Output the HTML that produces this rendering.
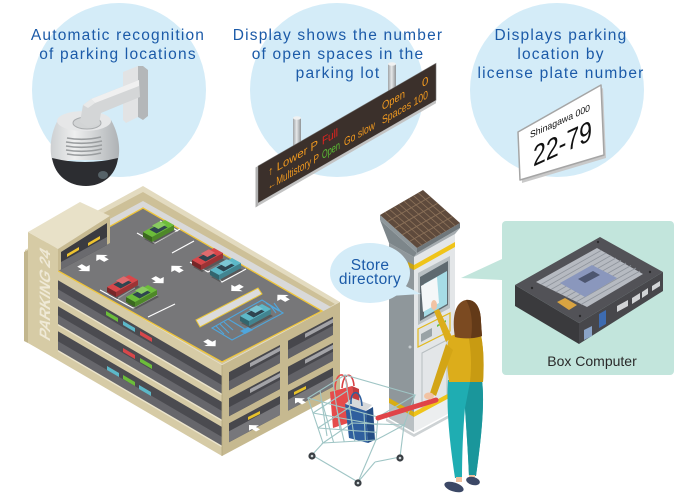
<!DOCTYPE html>
<html><head><meta charset="utf-8">
<style>
html,body{margin:0;padding:0;background:#fff;width:700px;height:500px;overflow:hidden}
svg{display:block}
.h{font-family:"Liberation Sans",Arial,sans-serif;font-size:15.5px;fill:#1b5aa8;letter-spacing:1.2px;text-anchor:middle}
.s{font-family:"Liberation Sans",Arial,sans-serif}
</style></head><body>
<svg width="700" height="500" viewBox="0 0 700 500" xmlns="http://www.w3.org/2000/svg">
<defs>
<linearGradient id="pole" x1="0" x2="1"><stop offset="0" stop-color="#9fa3a6"/><stop offset="0.45" stop-color="#e6e8e9"/><stop offset="1" stop-color="#8f9396"/></linearGradient>
<linearGradient id="dome" x1="0" x2="1"><stop offset="0" stop-color="#cdd0d2"/><stop offset="0.35" stop-color="#eeefef"/><stop offset="1" stop-color="#aeb2b5"/></linearGradient>
<path id="arr" d="M0,-5 L5,0 L2,0 L2,4 L-2,4 L-2,0 L-5,0 Z" fill="#fff"/>
<g id="car">
 <polygon points="1,2 24,-10 33,-5 10,7" fill="#3a3a3a" opacity="0.5"/>
 <polygon points="9,5 31,-7 31,-12 9,0" fill="currentColor"/>
 <polygon points="9,5 31,-7 31,-12 9,0" fill="#000" opacity="0.28"/>
 <polygon points="0,0 9,5 9,0 0,-5" fill="currentColor"/>
 <polygon points="0,0 9,5 9,0 0,-5" fill="#000" opacity="0.45"/>
 <polygon points="0,-5 22,-17 31,-12 9,0" fill="currentColor"/>
 <polygon points="6.4,-7.5 17.4,-13.5 24.6,-9.5 13.6,-3.5" fill="#2f4550"/>
 <polygon points="9,-11.5 16.8,-15.7 23,-12.2 15.4,-8" fill="currentColor"/>
 <polygon points="9,-11.5 16.8,-15.7 23,-12.2 15.4,-8" fill="#fff" opacity="0.2"/>
</g>
</defs>
<rect width="700" height="500" fill="#fff"/>

<!-- circles -->
<circle cx="119" cy="90" r="87" fill="#d4ecf8"/>
<circle cx="337" cy="90" r="87" fill="#d4ecf8"/>
<circle cx="557" cy="90" r="87" fill="#d4ecf8"/>

<!-- camera -->
<polygon points="138,66 143,66 148,70 148,116 143,120 138,117" fill="#b4b7b9"/>
<polygon points="123,72 138,66 138,117 126,123 123,120" fill="#e2e3e4"/>
<path d="M58,120 C51,132 49,148 52,160 L118,160 C121,148 118,132 111,120 Z" fill="url(#dome)"/>
<ellipse cx="84" cy="121" rx="27" ry="10" fill="#e6e7e8"/>
<ellipse cx="87" cy="123" rx="14" ry="6" fill="#d2d4d5" stroke="#a9acae" stroke-width="1"/>
<polygon points="139,80 91,99 83,105 80,122 88,127 99,124 101,113 140,97" fill="#d4d6d7"/>
<polygon points="139,80 91,99 95,103 139,86" fill="#f0f0f0"/>
<polygon points="83,105 91,99 95,103 88,108" fill="#e8e9e9"/>
<g stroke="#9a9d9f" stroke-width="1.6" fill="none">
<path d="M67,138 Q84,141 101,137"/><path d="M66,142 Q84,145 102,141"/><path d="M66,146 Q84,149 102,145"/><path d="M66,150 Q84,153 102,149"/><path d="M67,154 Q84,157 101,153"/>
</g>
<path d="M52,158 Q85,166 118,158 C116,176 102,186 86,186 C69,186 55,176 52,158 Z" fill="#2c2d31"/>
<ellipse cx="103" cy="175" rx="5" ry="4" fill="#566268"/>

<!-- sign -->
<rect x="293" y="118" width="8" height="40" fill="url(#pole)"/>
<ellipse cx="297" cy="118" rx="4" ry="1.8" fill="#f0f1f1"/>
<rect x="388" y="64" width="8" height="40" fill="url(#pole)"/>
<ellipse cx="392" cy="64" rx="4" ry="1.8" fill="#f0f1f1"/>
<g transform="matrix(1,-0.5774,0,1,0,0)" class="s">
 <rect x="258" y="315" width="178" height="37" fill="#3b302b" stroke="#777" stroke-width="0.6"/>
 <rect x="258" y="352" width="178" height="3" fill="#c3c3c3"/>
 <rect x="255.5" y="315" width="2.5" height="40" fill="#b0b0b0"/>
 <g font-size="11.5" fill="#f29a1f">
  <text x="268" y="331" textLength="50" lengthAdjust="spacingAndGlyphs">↑ Lower P</text>
  <text x="322" y="331" fill="#e8231f" textLength="16" lengthAdjust="spacingAndGlyphs">Full</text>
  <text x="382" y="331" textLength="23" lengthAdjust="spacingAndGlyphs">Open</text>
  <text x="422" y="331">0</text>
  <text x="268" y="345" textLength="51" lengthAdjust="spacingAndGlyphs">←Multistory P</text>
  <text x="322" y="345" fill="#5cc234" textLength="18" lengthAdjust="spacingAndGlyphs">Open</text>
  <text x="344" y="345" textLength="31" lengthAdjust="spacingAndGlyphs">Go slow</text>
  <text x="382" y="345" textLength="46" lengthAdjust="spacingAndGlyphs">Spaces 100</text>
 </g>
</g>

<!-- license plate -->
<polygon points="520,135 603,88 606,158 522,183" fill="#c9c9c9"/>
<polygon points="518,132 601,85 604,155 520,180" fill="#fff" stroke="#a5a5a5" stroke-width="1.5" stroke-linejoin="round"/>
<g transform="matrix(1,-0.46,0,1,0,0)" class="s" fill="#111">
 <text x="530" y="382" font-size="9.5" textLength="60" lengthAdjust="spacingAndGlyphs">Shinagawa 000</text>
 <text x="533" y="412" font-size="29" textLength="59" lengthAdjust="spacingAndGlyphs">22-79</text>
</g>

<!-- headers -->
<text class="h" x="118" y="40">Automatic recognition</text>
<text class="h" x="118" y="59">of parking locations</text>
<text class="h" x="338" y="40">Display shows the number</text>
<text class="h" x="338" y="59">of open spaces in the</text>
<text class="h" x="338" y="78">parking lot</text>
<text class="h" x="561" y="40">Displays parking</text>
<text class="h" x="561" y="59">location by</text>
<text class="h" x="561" y="78">license plate number</text>

<!-- building left face -->
<polygon points="25,250 222,365 222,456 25,341" fill="#d6cba6"/>
<g fill="#4b4b50">
<polygon points="25,261 222,376 222,394 25,279"/>
<polygon points="25,287 222,402 222,420 25,305"/>
<polygon points="25,312 222,427 222,446 25,331"/>
</g>
<g fill="#66666b">
<polygon points="25,270 222,385 222,394 25,279"/>
<polygon points="25,296 222,411 222,420 25,305"/>
<polygon points="25,322 222,437 222,446 25,331"/>
</g>
<g stroke="#ebe4cc" stroke-width="1.4">
<line x1="25" y1="279.5" x2="222" y2="394.5"/>
<line x1="25" y1="305.5" x2="222" y2="420.5"/>
<line x1="25" y1="331.5" x2="222" y2="446.5"/>
</g>
<!-- small cars on floors -->
<g>
<polygon points="106,311 118,318 118,322 106,315" fill="#6cbd3a"/>
<polygon points="123,321 135,328 135,332 123,325" fill="#5cb8c8"/>
<polygon points="140,331 152,338 152,342 140,335" fill="#d8474a"/>
<polygon points="123,348 135,355 135,359 123,352" fill="#d8474a"/>
<polygon points="140,358 152,365 152,369 140,362" fill="#6cbd3a"/>
<polygon points="107,366 119,373 119,377 107,370" fill="#5cb8c8"/>
<polygon points="123,375 135,382 135,386 123,379" fill="#6cbd3a"/>
<polygon points="139,385 151,392 151,396 139,389" fill="#5cb8c8"/>
</g>

<!-- building right face -->
<polygon points="222,365 340,302 340,393 222,456" fill="#c6b990"/>
<g fill="#47474c">
<polygon points="229,372.3 280,345 280,363 229,390.3"/>
<polygon points="288,340.8 333,316.7 333,334.7 288,358.8"/>
<polygon points="229,398.3 280,371 280,389 229,416.3"/>
<polygon points="288,366.8 333,342.7 333,360.7 288,384.8"/>
<polygon points="229,423.3 280,396 280,415 229,442.3"/>
<polygon points="288,391.8 333,367.7 333,386.7 288,410.8"/>
</g>
<g fill="#626267">
<polygon points="229,381.3 280,354 280,363 229,390.3"/>
<polygon points="288,349.8 333,325.7 333,334.7 288,358.8"/>
<polygon points="229,407.3 280,380 280,389 229,416.3"/>
<polygon points="288,375.8 333,351.7 333,360.7 288,384.8"/>
<polygon points="229,431.3 280,404 280,415 229,442.3" fill="#77777b"/>
<polygon points="288,399.8 333,375.7 333,386.7 288,410.8" fill="#77777b"/>
</g>
<g fill="#a3a3a7">
<polygon points="305,333.7 333,318.7 333,322.7 305,337.7"/>
<polygon points="305,359.7 333,344.7 333,348.7 305,363.7"/>
<polygon points="250,363.1 280,347 280,351 250,367.1"/>
<polygon points="250,389.1 280,373 280,377 250,393.1"/>
</g>
<polygon points="248,417 260,411 260,414 248,420" fill="#e8c22a"/>
<polygon points="294,392 306,386 306,389 294,395" fill="#e8c22a"/>
<use href="#arr" transform="matrix(1,-0.53,1,0.6,254,428)"/>
<use href="#arr" transform="matrix(1,-0.53,1,0.6,300,401)"/>
<line x1="222" y1="365" x2="222" y2="456" stroke="#b4a77e" stroke-width="0.8"/>

<!-- deck -->
<polygon points="25,250 143,186 340,302 222,365" fill="#e3dbc0"/>
<polygon points="30,252 143,192 335,304 222,364" fill="#cdc098"/>
<polygon points="38,258 143,201 331,307 222,363" fill="#d9d9d9"/>
<polygon points="44,263 143,208 322,311 222,362" fill="#777779" stroke="#efc53a" stroke-width="1.3"/>
<!-- markings -->
<g stroke="#fff" stroke-width="1.2" fill="none">
<polyline points="137,233 155,243 180,229"/>
<polyline points="160,221 178,231"/>
<line x1="172" y1="253" x2="194" y2="241"/>
<polyline points="190,262 208,272 232,259"/>
<polyline points="213,272 222,282 246,269"/>
<polyline points="100,290 133,308 157,295"/>
<polyline points="118,298 135,288"/>
<line x1="148" y1="317" x2="175" y2="304"/>
</g>
<polygon points="196,320 258,288 262,294 200,327" fill="#dcdcdc" stroke="#e9c537" stroke-width="1"/>
<g stroke="#4fa6dc" stroke-width="1.1" fill="none">
<polygon points="212,328 232,340 283,313 262,300"/>
<line x1="228" y1="319" x2="248" y2="331"/>
<line x1="266" y1="303" x2="279" y2="311"/>
<line x1="216" y1="326" x2="224" y2="334"/><line x1="220" y1="324" x2="229" y2="333"/><line x1="224" y1="322" x2="233" y2="330"/>
<line x1="270" y1="305" x2="276" y2="313"/><line x1="274" y1="303" x2="280" y2="311"/>
</g>
<polygon points="240,331 248,327 253,330 245,334" fill="#4fa6dc"/>
<use href="#arr" transform="matrix(1.15,-0.61,1.12,0.66,102,258)"/>
<use href="#arr" transform="matrix(1.15,-0.61,-1.12,-0.66,84,268)"/>
<use href="#arr" transform="matrix(1.15,-0.61,1.12,0.66,177,269)"/>
<use href="#arr" transform="matrix(1.15,-0.61,-1.12,-0.66,158,280)"/>
<use href="#arr" transform="matrix(1.12,0.66,1.15,-0.61,237,288)"/>
<use href="#arr" transform="matrix(1.15,-0.61,1.12,0.66,283,298)"/>
<use href="#arr" transform="matrix(1.15,-0.61,-1.12,-0.66,210,343)"/>
<use href="#car" x="143" y="237" color="#6cbd3a"/>
<use href="#car" x="192" y="265" color="#d8474a"/>
<use href="#car" x="210" y="275" color="#5cb8c8"/>
<use href="#car" x="107" y="292" color="#d8474a"/>
<use href="#car" x="126" y="302" color="#6cbd3a"/>
<use href="#car" x="240" y="321" color="#5cb8c8"/>

<!-- tower -->
<polygon points="24,252 28,250 28,343 24,341" fill="#c2b68d"/>
<polygon points="28,232 58,249 58,360 28,343" fill="#d6cba5"/>
<polygon points="28,232 80,202 110,216 58,249" fill="#e8e1c8"/>
<polygon points="58,249 110,216 110,243 58,271" fill="#c7ba91"/>
<polygon points="61,252 107,223 107,245 61,269.5" fill="#3b3b40"/>
<polygon points="61,262 107,237 107,245 61,269.5" fill="#6a6a6e"/>
<polygon points="67,254 79,247 79,250 67,257" fill="#eec32f"/>
<polygon points="88,243 100,236 100,239 88,246" fill="#eec32f"/>
<text transform="matrix(0,-1,1,0.58,50,342)" class="s" font-size="15" font-weight="bold" fill="#efe9d6" textLength="90" lengthAdjust="spacingAndGlyphs">PARKING 24</text>

<!-- box computer panel -->
<rect x="502" y="221" width="172" height="154" rx="4" fill="#c2e5dc"/>
<polygon points="502,259 461,278 502,280" fill="#c2e5dc"/>
<polygon points="515,285 579,323 579,344 515,306" fill="#3a3a3d"/>
<polygon points="579,323 663,272 663,291 579,344" fill="#47474b"/>
<polygon points="515,285 600,237 663,272 579,323" fill="#525257"/>
<polygon points="536,282 597,248 643,274 587,307" fill="#b6bac1"/>
<g stroke="#8f949c" stroke-width="0.8">
<line x1="541" y1="284.5" x2="601" y2="250.5"/><line x1="546" y1="287" x2="606" y2="253"/><line x1="551" y1="289.5" x2="611" y2="255.5"/><line x1="556" y1="292" x2="616" y2="258"/><line x1="561" y1="294.5" x2="621" y2="260.5"/><line x1="566" y1="297" x2="626" y2="263"/><line x1="571" y1="299.5" x2="631" y2="265.5"/><line x1="576" y1="302" x2="636" y2="268"/><line x1="581" y1="304.5" x2="640" y2="271"/>
</g>
<polygon points="560,283 592,265 617,278 585,297" fill="#8a97bd"/>
<polygon points="578,279 593,271 600,275 585,283" fill="#4d5670"/>
<polygon points="557,302 565,298 577,305 569,310" fill="#d9a441"/>
<g fill="#2a2a2c"><circle cx="532" cy="288" r="1.2"/><circle cx="598" cy="242" r="1.2"/><circle cx="650" cy="272" r="1.2"/><circle cx="580" cy="316" r="1.2"/></g>
<g fill="#d2d4d6">
<polygon points="599,314 606,310 606,324 599,328" fill="#3d6bb0"/>
<polygon points="617,306 628,300 628,306 617,312"/>
<polygon points="632,298 640,293 640,299 632,304"/>
<polygon points="642,292 648,288 648,294 642,298"/>
<polygon points="652,286 660,281 660,286 652,291"/>
<polygon points="584,330 592,326 592,336 584,340" fill="#8aa4c8"/>
</g>
<text x="592" y="366" class="s" font-size="14" fill="#2a2a2a" text-anchor="middle">Box Computer</text>

<!-- kiosk -->
<polygon points="389,243 414,257 414,432 389,418" fill="#8f979b"/>
<polygon points="414,257 455,234 455,410 414,432" fill="#e3e6e8"/>
<polygon points="380,220 417,253 414,257 389,243" fill="#7d868a"/>
<polygon points="417,253 460,228 455,234 414,257" fill="#a4abaf"/>
<polygon points="380,215 417,248 417,253 380,220" fill="#8e979b"/>
<polygon points="417,248 460,223 460,228 417,253" fill="#6f777b"/>
<polygon points="423,190 460,223 417,248 380,215" fill="#5e4a3c"/>
<g stroke="#8a7058" stroke-width="0.9">
<line x1="430.4" y1="196.6" x2="387.4" y2="221.6"/><line x1="437.8" y1="203.2" x2="394.8" y2="228.2"/><line x1="445.2" y1="209.8" x2="402.2" y2="234.8"/><line x1="452.6" y1="216.4" x2="409.6" y2="241.4"/>
<line x1="418.2" y1="192.8" x2="455.2" y2="225.8"/><line x1="413.4" y1="195.6" x2="450.4" y2="228.6"/><line x1="408.7" y1="198.3" x2="445.7" y2="231.3"/><line x1="403.9" y1="201.1" x2="440.9" y2="234.1"/><line x1="399.1" y1="203.9" x2="436.1" y2="236.9"/><line x1="394.3" y1="206.7" x2="431.3" y2="239.7"/><line x1="389.6" y1="209.4" x2="426.6" y2="242.4"/><line x1="384.8" y1="212.2" x2="421.8" y2="245.2"/>
</g>
<polygon points="414,265 455,242 455,247 414,270" fill="#f0c419"/>
<polygon points="408,262 414,265 414,270 408,267" fill="#c9a414"/>
<polygon points="418,273 450,256 450,308 418,325" fill="#b9c0c3"/>
<polygon points="420,277 448,261 448,305 420,321" fill="#5f6a70"/>
<polygon points="424,284 447,271 447,304 424,317" fill="#a6dce6"/>
<polygon points="421,286 437,277 439,303 423,312" fill="#f4f7f8"/>
<polygon points="418,329 450,313 450,331 418,347" fill="#dfe2e3" stroke="#e2b91d" stroke-width="1.2"/>
<polygon points="421,334 432,328 432,336 421,342" fill="#9aa3a6"/>
<polygon points="437,325 446,320 446,322 437,327" fill="#6cc04a"/>
<polygon points="422,353 447,340 447,395 422,408" fill="none" stroke="#b7bec1" stroke-width="1"/>
<circle cx="410" cy="347" r="1.5" fill="#c3c9cc"/>
<polygon points="389,398 414,412 414,417 389,403" fill="#d8ad14"/>
<polygon points="414,412 455,390 455,395 414,417" fill="#f0c419"/>
<polygon points="389,403 414,417 414,432 389,418" fill="#b9c0c3"/>
<polygon points="414,417 455,395 455,410 414,432" fill="#eceeef"/>
<polygon points="386,418 414,434 458,410 458,413 414,437 386,421" fill="#cdd2d4"/>

<!-- store bubble -->
<polygon points="396,281 421,294 390,296" fill="#d4ecf8"/>
<ellipse cx="370" cy="273" rx="40" ry="30" fill="#d4ecf8"/>
<text x="370" y="270" class="s" font-size="15.5" fill="#1b5aa8" text-anchor="middle" letter-spacing="0.3">Store</text>
<text x="370" y="284" class="s" font-size="15.5" fill="#1b5aa8" text-anchor="middle" letter-spacing="0.3">directory</text>

<!-- cart -->
<polygon points="330,392 352,386 354,421 333,428" fill="#e54b4b"/>
<polygon points="352,386 359,389 360,420 354,421" fill="#c23b3e"/>
<path d="M335,390 C335,372 346,369 347,387" stroke="#e54b4b" stroke-width="1.6" fill="none"/>
<path d="M342,388 C343,372 353,371 354,386" stroke="#d94044" stroke-width="1.6" fill="none"/>
<polygon points="345,404 352,398 372,405 366,411" fill="#d7d9db"/>
<polygon points="345,404 366,411 368,443 349,438" fill="#2f5f9e"/>
<polygon points="366,411 373,407 375,440 368,443" fill="#244d84"/>
<path d="M351,404 C350,389 361,388 362,406" stroke="#2f5f9e" stroke-width="1.6" fill="none"/>
<g stroke="#9fc5c5" stroke-width="1.1" fill="none">
<polygon points="308,398 345,375 415,395 378,417"/>
<polygon points="323,443 352,423 404,425 376,440"/>
<line x1="308" y1="398" x2="323" y2="443"/><line x1="345" y1="375" x2="352" y2="423"/><line x1="415" y1="395" x2="404" y2="425"/><line x1="378" y1="417" x2="376" y2="440"/>
<line x1="322" y1="401.8" x2="333.6" y2="442.4"/><line x1="336" y1="405.6" x2="344.2" y2="441.8"/><line x1="350" y1="409.4" x2="354.8" y2="441.2"/><line x1="364" y1="413.2" x2="365.4" y2="440.6"/>
<line x1="313" y1="413" x2="377.3" y2="424.7"/><line x1="318" y1="428" x2="376.6" y2="432.3"/>
<line x1="320" y1="390.3" x2="327" y2="436"/><line x1="333" y1="382.3" x2="340" y2="429.5"/>
<line x1="313" y1="413" x2="347" y2="391"/><line x1="318" y1="428" x2="350" y2="407"/>
<line x1="323" y1="443" x2="312" y2="455"/><line x1="312" y1="455" x2="358" y2="482"/><line x1="376" y1="440" x2="358" y2="482"/>
<line x1="404" y1="425" x2="400" y2="457"/><line x1="358" y1="482" x2="375" y2="462"/><line x1="375" y1="462" x2="400" y2="457"/>
</g>
<line x1="378" y1="418" x2="436" y2="400" stroke="#e04448" stroke-width="5" stroke-linecap="round"/>
<g><circle cx="312" cy="456" r="3.6" fill="#3a3f44"/><circle cx="312" cy="456" r="1.3" fill="#cfd6d8"/>
<circle cx="358" cy="483" r="3.6" fill="#3a3f44"/><circle cx="358" cy="483" r="1.3" fill="#cfd6d8"/>
<circle cx="400" cy="458" r="3.6" fill="#3a3f44"/><circle cx="400" cy="458" r="1.3" fill="#cfd6d8"/></g>

<!-- woman -->
<path d="M448,380 L482,380 C485,405 481,440 476,476 L469,476 C468,450 466,425 465,408 C463,430 462,455 462,478 L455,478 C450,445 446,410 448,380 Z" fill="#1fadb2"/>
<path d="M470,382 L482,380 C485,405 481,440 476,476 L469,476 C468,450 466,425 465,408 Z" fill="#1a969b"/>
<polygon points="456,477 462,477 462,482 456,482" fill="#f0c09e"/>
<polygon points="469,475 475,475 475,479 469,479" fill="#f0c09e"/>
<ellipse cx="454" cy="487" rx="10" ry="4.5" fill="#3c4866" transform="rotate(18 454 487)"/>
<ellipse cx="473" cy="481" rx="7" ry="4" fill="#3c4866" transform="rotate(15 473 481)"/>
<path d="M449,337 C455,333 470,332 481,335 C484,350 484,368 483,382 L449,382 C447,368 446,350 449,337 Z" fill="#dcad1b"/>
<path d="M468,334 C474,334 478,334 481,335 C484,350 484,368 483,382 L470,382 C472,365 471,348 468,334 Z" fill="#c89b12"/>
<polygon points="446,342 452,337 439,309 434,311" fill="#dcad1b"/>
<ellipse cx="434" cy="305" rx="3" ry="5" fill="#f2c3a3"/>
<polygon points="446,344 453,350 436,396 430,393" fill="#d3a516"/>
<ellipse cx="429" cy="396" rx="5" ry="3.5" fill="#f2c3a3"/>
<path d="M455,337 C452,320 454,302 466,300 C477,299 481,310 481,322 L482,336 C474,339 462,339 455,337 Z" fill="#7b4a21"/>
<path d="M466,300 C477,299 481,310 481,322 L482,336 C478,337 474,338 471,338 C473,325 472,310 466,300 Z" fill="#633a18"/>
</svg>
</body></html>
